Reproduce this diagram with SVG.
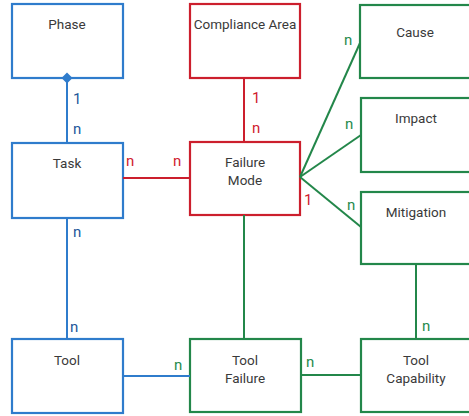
<svg xmlns="http://www.w3.org/2000/svg" width="469" height="416" viewBox="0 0 469 416">
  <style>
    .box { fill: #ffffff; stroke-width: 2.2; }
    .blue { stroke: #2f7ccc; }
    .red { stroke: #cc1f2d; }
    .green { stroke: #23874a; }
    .name { font-family: Roboto, "Liberation Sans", sans-serif; font-size: 13.5px; fill: #3a3a3a; text-anchor: middle; }
    .card { font-family: Roboto, "Liberation Sans", sans-serif; font-size: 15px; font-weight: 400; }
    .cb { fill: #22579a; }
    .cr { fill: #d0202e; }
    .cg { fill: #1f8a4c; }
    .wire { fill: none; stroke-width: 2; }
  </style>

  <g id="phase">
    <rect class="box blue" x="12" y="4" width="111" height="74"/>
    <text class="name" x="67" y="29">Phase</text>
  </g>
  <g id="compliance-area">
    <rect class="box red" x="190" y="4" width="110" height="74"/>
    <text class="name" x="245" y="29">Compliance Area</text>
  </g>
  <g id="cause">
    <rect class="box green" x="360" y="5" width="111" height="73"/>
    <text class="name" x="415" y="37">Cause</text>
  </g>
  <g id="impact">
    <rect class="box green" x="361" y="98" width="111" height="74"/>
    <text class="name" x="416" y="123">Impact</text>
  </g>
  <g id="mitigation">
    <rect class="box green" x="361" y="192" width="111" height="72"/>
    <text class="name" x="416" y="217">Mitigation</text>
  </g>
  <g id="task">
    <rect class="box blue" x="12" y="143" width="111" height="75"/>
    <text class="name" x="67" y="168">Task</text>
  </g>
  <g id="failure-mode">
    <rect class="box red" x="190" y="142" width="110" height="73"/>
    <text class="name" x="245" y="167">Failure</text>
    <text class="name" x="245" y="185">Mode</text>
  </g>
  <g id="tool">
    <rect class="box blue" x="12" y="339" width="111" height="74"/>
    <text class="name" x="67" y="365">Tool</text>
  </g>
  <g id="tool-failure">
    <rect class="box green" x="190" y="339" width="111" height="73"/>
    <text class="name" x="245" y="365">Tool</text>
    <text class="name" x="245" y="383">Failure</text>
  </g>
  <g id="tool-capability">
    <rect class="box green" x="361" y="339" width="111" height="73"/>
    <text class="name" x="416" y="365">Tool</text>
    <text class="name" x="416" y="383">Capability</text>
  </g>

  <g id="connectors">
    <line class="wire blue" x1="67" y1="78" x2="67" y2="143"/>
    <!-- aggregation diamond on the Phase side -->
    <path d="M67 72.5 L72.5 78 L67 83.5 L61.5 78 Z" fill="#2f7ccc"/>
    <line class="wire blue" x1="67" y1="218" x2="67" y2="339"/>
    <line class="wire blue" x1="123" y1="376" x2="190" y2="376"/>
    <line class="wire red" x1="244" y1="78" x2="244" y2="142"/>
    <line class="wire red" x1="123" y1="178" x2="190" y2="178"/>
    <line class="wire green" x1="300" y1="177" x2="360" y2="43"/>
    <line class="wire green" x1="300" y1="177" x2="361" y2="135"/>
    <line class="wire green" x1="300" y1="177" x2="361" y2="227"/>
    <line class="wire green" x1="244" y1="215" x2="244" y2="339"/>
    <line class="wire green" x1="301" y1="375" x2="361" y2="375"/>
    <line class="wire green" x1="416" y1="264" x2="416" y2="339"/>

    <text class="card cb" x="73" y="104">1</text>
    <text class="card cb" x="73" y="134">n</text>
    <text class="card cb" x="73" y="237">n</text>
    <text class="card cb" x="70" y="332">n</text>
    <text class="card cr" x="126" y="166">n</text>
    <text class="card cr" x="173" y="166">n</text>
    <text class="card cr" x="252" y="103">1</text>
    <text class="card cr" x="252" y="133">n</text>
    <text class="card cr" x="304" y="205">1</text>
    <text class="card cg" x="344" y="45">n</text>
    <text class="card cg" x="345" y="129">n</text>
    <text class="card cg" x="347" y="210">n</text>
    <text class="card cg" x="174" y="370">n</text>
    <text class="card cg" x="306" y="367">n</text>
    <text class="card cg" x="422" y="331">n</text>
  </g>
</svg>
